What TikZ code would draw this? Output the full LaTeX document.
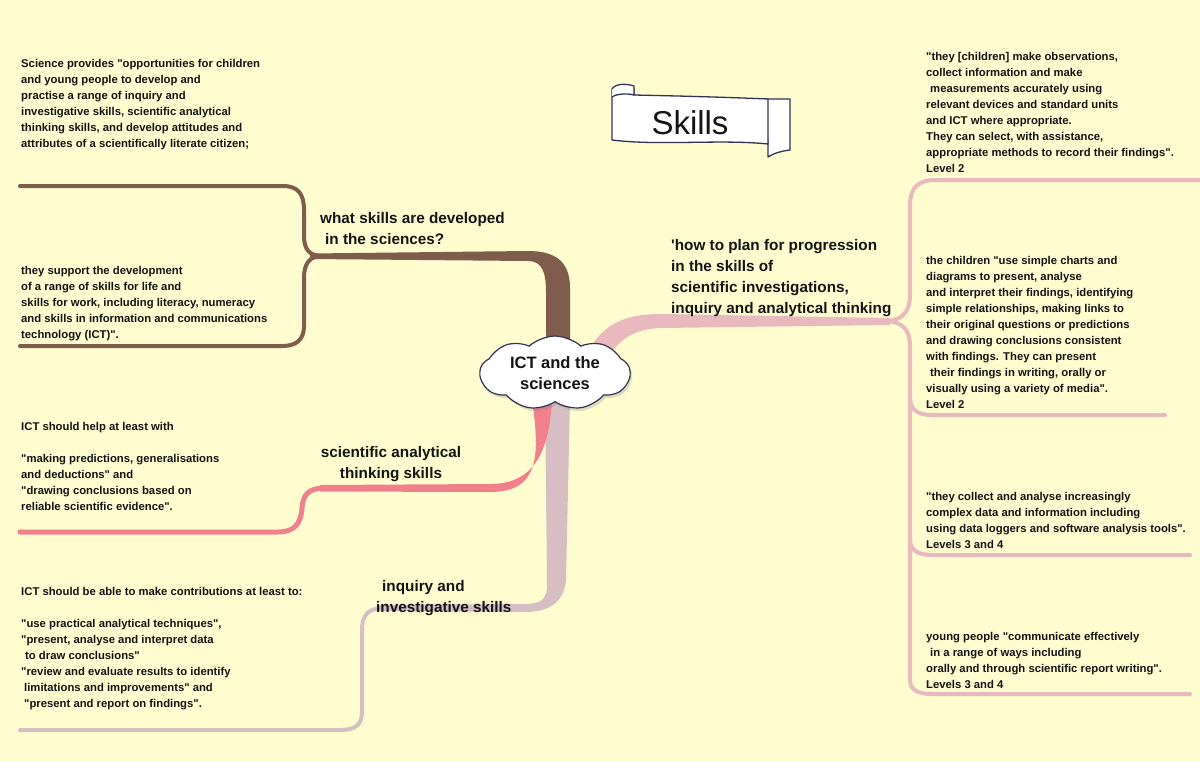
\documentclass[tikz,border=0pt]{standalone}
\usepackage{fontspec}
\setmainfont{Liberation Sans}[Ligatures=TeXOff]
\usetikzlibrary{shapes.symbols,shadows}
\definecolor{bgc}{RGB}{255,252,208}
\definecolor{brownc}{RGB}{128,92,76}
\definecolor{pinkc}{RGB}{240,128,140}
\definecolor{mauvec}{RGB}{214,190,194}
\definecolor{lpinkc}{RGB}{232,186,190}
\definecolor{txtc}{RGB}{20,20,20}
\definecolor{linec}{RGB}{50,50,85}
\begin{document}
\begin{tikzpicture}[x=1pt,y=-1pt,
  body/.style={anchor=north west, inner sep=0pt, align=left, text=txtc,
    font=\bfseries\fontsize{11.3}{16}\selectfont},
  lab/.style={anchor=north west, inner sep=0pt, align=left, text=txtc,
    font=\bfseries\fontsize{15.3}{21}\selectfont},
  twig/.style={line width=4pt, line cap=round},
  banner/.style={fill=white, draw=linec, line width=1.3pt, line join=round}]
\fill[bgc] (0,0) rectangle (1200,761);
\useasboundingbox (0,0) rectangle (1200,761);

% ---------- key points ----------
\coordinate (bj) at (322,256);
\coordinate (pj) at (325,488);
\coordinate (mj) at (385,608);
\coordinate (rj) at (885,321);
\coordinate (rb1) at (910,398);
\coordinate (rb2) at (910,540);

% ---------- brown branch ----------
\fill[brownc] (570,350) -- (570,288) .. controls (570,262) and (556,251) .. (528,251)
  -- (310,253.5) -- (310,259) -- (528,261) .. controls (542,261) and (546,272) .. (546,292)
  -- (546,350) -- cycle;
\draw[brownc, twig] (20,186) -- (283,186) .. controls (298,186) and (304,194) .. (304,210)
  -- (304,236) .. controls (304,250) and (310,256) .. (bj);
\draw[brownc, twig] (bj) .. controls (310,256) and (304,263) .. (304,278)
  -- (304,326) .. controls (304,340) and (296,346) .. (282,346) -- (20,346);

% ---------- mauve branch ----------
\fill[mauvec] (545,400) -- (547,585) .. controls (547,600) and (540,604) .. (525,604)
  -- (380,605) -- (380,611) -- (525,612) .. controls (552,612) and (564,600) .. (566,580)
  -- (570,400) -- cycle;
\draw[mauvec, twig] (mj) .. controls (368,608) and (362,615) .. (362,630)
  -- (362,712) .. controls (362,725) and (355,730) .. (340,730) -- (20,730);

% ---------- pink branch ----------
\fill[pinkc] (552,400) .. controls (549,455) and (532,484) .. (490,484) -- (320,485)
  -- (320,491.5) -- (490,492) .. controls (537,492) and (541,460) .. (532,400) -- cycle;
\draw[pinkc, line width=5pt, line cap=round] (pj) .. controls (308,488) and (303,495) .. (302,508)
  .. controls (301,524) and (294,532) .. (278,532) -- (20,532);

% ---------- right branch ----------
\fill[lpinkc] (594,342) .. controls (610,320) and (632,314) .. (662,314) -- (890,318)
  -- (890,325) -- (662,328) .. controls (636,328) and (616,340) .. (606,362) -- cycle;
\draw[lpinkc, twig] (rj) .. controls (902,321) and (910,312) .. (910,295)
  -- (910,205) .. controls (910,188) and (918,180) .. (935,180) -- (1200,180);
\draw[lpinkc, twig] (rj) .. controls (902,321) and (910,330) .. (910,345) -- (rb1)
  .. controls (910,410) and (918,415) .. (932,415) -- (1165,415);
\draw[lpinkc, twig] (rb1) -- (rb2) .. controls (910,550) and (918,555) .. (932,555) -- (1190,555);
\draw[lpinkc, twig] (rb2) -- (910,680) .. controls (910,690) and (918,694) .. (932,694) -- (1190,694);

% ---------- central cloud ----------
\node[cloud, cloud puffs=9, cloud puff arc=85, aspect=2.3, minimum width=150pt, minimum height=70pt,
  fill=white, draw=linec, line width=1.2pt, align=center, text=txtc,
  drop shadow={opacity=0.25, shadow xshift=2pt, shadow yshift=-3pt},
  font=\bfseries\fontsize{16.5}{21}\selectfont] (ict) at (555,373) {ICT and the\\sciences};

% ---------- Skills banner ----------
\draw[banner] (764,99) -- (790,99) -- (790,150) .. controls (782,151) and (774,153) .. (768,157)
  -- (768,144) -- cycle;
\draw[banner] (612,89) -- (612,140) .. controls (660,146) and (720,139) .. (768,144)
  -- (768,99) .. controls (720,97) and (680,96) .. (634,95) -- (634,89) -- cycle;
\draw[banner] (612,89) .. controls (615,84) and (625,83) .. (634,86) -- (634,95)
  .. controls (626,93) and (616,94) .. (612,97);
\node[inner sep=0pt, text=txtc, font=\fontsize{33}{36}\selectfont] (skills) at (690,123) {Skills};

% ---------- branch labels ----------
\node[lab] (l1) at (320,212) {what skills are developed\\\hspace*{5pt}in the sciences?};
\node[lab] (l2) at (671,239) {'how to plan for progression\\in the skills of\\scientific investigations,\\inquiry and analytical thinking};
\node[lab, anchor=north, align=center] (l3) at (391,446) {scientific analytical\\thinking skills};
\node[lab] (l4) at (376,580) {\hspace*{6pt}inquiry and\\investigative skills};

% ---------- text blocks ----------
\node[body] (ta) at (21,59) {Science provides "opportunities for children\\
and young people to develop and\\
practise a range of inquiry and\\
investigative skills, scientific analytical\\
thinking skills, and develop attitudes and\\
attributes of a scientifically literate citizen;};

\node[body] (tb) at (21,266) {they support the development\\
of a range of skills for life and\\
skills for work, including literacy, numeracy\\
and skills in information and communications\\
technology (ICT)".};

\node[body] (tc) at (21,422) {ICT should help at least with\\[16pt]
"making predictions, generalisations\\
and deductions" and\\
"drawing conclusions based on\\
reliable scientific evidence".};

\node[body] (td) at (21,587) {ICT should be able to make contributions at least to:\\[16pt]
"use practical analytical techniques",\\
"present, analyse and interpret data\\
\hspace*{4pt}to draw conclusions"\\
"review and evaluate results to identify\\
\hspace*{3pt}limitations and improvements" and\\
\hspace*{3pt}"present and report on findings".};

\node[body] (te) at (926,52) {"they [children] make observations,\\
collect information and make\\
\hspace*{4pt}measurements accurately using\\
relevant devices and standard units\\
and ICT where appropriate.\\
They can select, with assistance,\\
appropriate methods to record their findings".\\
Level 2};

\node[body] (tf) at (926,256) {the children "use simple charts and\\
diagrams to present, analyse\\
and interpret their findings, identifying\\
simple relationships, making links to\\
their original questions or predictions\\
and drawing conclusions consistent\\
with findings. They can present\\
\hspace*{4pt}their findings in writing, orally or\\
visually using a variety of media".\\
Level 2};

\node[body] (tg) at (926,492) {"they collect and analyse increasingly\\
complex data and information including\\
using data loggers and software analysis tools".\\
Levels 3 and 4};

\node[body] (th) at (926,632) {young people "communicate effectively\\
\hspace*{4pt}in a range of ways including\\
orally and through scientific report writing".\\
Levels 3 and 4};
\end{tikzpicture}
\end{document}
